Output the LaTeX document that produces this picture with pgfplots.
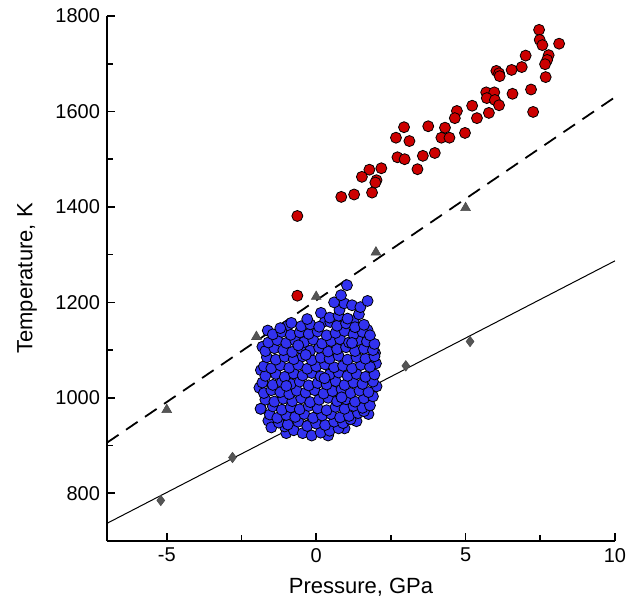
\documentclass[border=0pt]{standalone}
\usepackage{fontspec}
\setmainfont{Liberation Sans}
\usepackage{pgfplots}
\pgfplotsset{compat=1.18}
\definecolor{redc}{RGB}{204,0,0}
\definecolor{bluec}{RGB}{50,50,240}
\definecolor{grayc}{RGB}{85,85,85}
\begin{document}
\begin{tikzpicture}
\useasboundingbox (-53.5pt,-30pt) rectangle (265.5pt,270.5pt);
\begin{axis}[
  at={(0,0)}, anchor=south west,
  width=254pt, height=262.5pt, scale only axis,
  xmin=-7, xmax=10, ymin=700, ymax=1800,
  axis x line*=bottom, axis y line*=left,
  axis line style={line width=1pt},
  xtick={-5,0,5,10}, xticklabels={-5,0,5,10},
  ytick={800,1000,1200,1400,1600,1800},
  yticklabels={800,1000,1200,1400,1600,1800},
  minor xtick={-2.5,2.5,7.5}, minor ytick={900,1100,1300,1500,1700},
  major tick length=4pt, minor tick length=3pt,
  every tick/.style={black, line width=0.8pt},
  tick align=inside,
  xlabel={Pressure, GPa}, ylabel={Temperature, K},
  label style={font=\fontsize{11}{13}\selectfont},
  xlabel style={at={(axis description cs:0.5,-0.088)}, anchor=center},
  ylabel style={at={(axis description cs:-0.1575,0.5)}, anchor=center},
  clip=false,
]
% fitted lines
\addplot[black, line width=0.5pt] coordinates {(-7,737) (10,1287)};
\addplot[black, line width=0.9pt, dash pattern=on 7pt off 4.5pt] coordinates {(-7,906) (10,1630)};
% triangles
\addplot[only marks, mark=triangle*, mark size=2.8pt, mark options={fill=grayc, draw=black!70, line width=0.3pt}] coordinates {
(-5,975) (-2,1128) (0,1212) (2,1305) (5,1398)};
% diamonds
\addplot[only marks, mark=diamond*, mark size=2.6pt, mark options={fill=grayc, draw=black!70, line width=0.3pt}] coordinates {
(-5.2,785) (-2.8,875) (3.0,1067) (5.15,1118)};
% blue cluster
\addplot[only marks, mark=*, mark size=2.75pt, mark options={fill=bluec, draw=black, line width=0.4pt}] coordinates {
(-1.6,952) (-1.0,926) (0.4,921) (0.95,936) (1.35,951) (1.75,966) (-1.9,1021) (-1.85,1058) (-1.8,1107) (-1.62,1141)
(2.0,1072) (2.02,1024) (1.97,1094) (1.72,1142) (-0.95,1151) (0.3,1161) (1.25,1161)
(-0.75,932) (-0.45,926) (-0.15,921) (0.15,927) (0.45,931) (0.75,936) (-1.05,940)
(-1.5,938) (-1.25,948) (-0.95,944) (-0.6,950) (-0.3,941) (0.0,946) (0.3,943) (0.6,950) (0.9,947) (1.15,955)
(-1.55,965) (-1.3,958) (-1.0,964) (-0.7,960) (-0.4,966) (-0.1,958) (0.2,963) (0.5,966) (0.8,959) (1.1,962) (1.4,968) (1.6,972)
(-1.85,977) (-1.45,982) (-1.15,975) (-0.85,980) (-0.55,976) (-0.25,983) (0.05,978) (0.35,974) (0.65,981) (0.95,977) (1.25,983) (1.55,979) (1.8,984)
(-1.7,996) (-1.4,992) (-1.1,998) (-0.8,993) (-0.5,999) (-0.2,991) (0.1,996) (0.4,1000) (0.7,993) (1.0,997) (1.3,992) (1.6,999) (1.9,1003)
(-1.75,1010) (-1.5,1016) (-1.2,1012) (-0.9,1008) (-0.65,1015) (-0.35,1011) (-0.05,1016) (0.25,1009) (0.55,1014) (0.85,1018) (1.15,1010) (1.45,1015) (1.75,1012)
(-1.8,1032) (-1.45,1027) (-1.15,1033) (-0.85,1029) (-0.55,1034) (-0.25,1026) (0.05,1031) (0.35,1028) (0.65,1035) (0.95,1027) (1.25,1032) (1.55,1029) (1.9,1034)
(-1.7,1046) (-1.35,1050) (-1.05,1044) (-0.75,1051) (-0.45,1047) (-0.15,1052) (0.15,1045) (0.45,1049) (0.75,1053) (1.05,1046) (1.35,1050) (1.65,1044) (1.95,1049)
(-1.75,1066) (-1.5,1062) (-1.2,1068) (-0.9,1063) (-0.6,1069) (-0.3,1061) (0.0,1066) (0.3,1070) (0.6,1064) (0.9,1067) (1.2,1062) (1.5,1069) (1.8,1065)
(-1.65,1085) (-1.35,1080) (-1.05,1086) (-0.75,1081) (-0.45,1087) (-0.15,1079) (0.15,1084) (0.45,1082) (0.75,1088) (1.05,1080) (1.35,1085) (1.65,1082) (1.95,1087)
(-1.7,1098) (-1.4,1104) (-1.1,1100) (-0.8,1096) (-0.5,1103) (-0.2,1099) (0.1,1105) (0.4,1097) (0.7,1102) (1.0,1106) (1.3,1098) (1.6,1103) (1.9,1100)
(-1.6,1116) (-1.3,1121) (-1.0,1115) (-0.7,1120) (-0.4,1117) (-0.1,1122) (0.2,1114) (0.5,1119) (0.8,1123) (1.1,1116) (1.4,1121) (1.7,1118) (1.95,1113)
(-1.45,1133) (-1.15,1138) (-0.85,1132) (-0.55,1137) (-0.25,1134) (0.05,1139) (0.35,1131) (0.65,1136) (0.95,1140) (1.25,1133) (1.55,1138) (1.8,1131)
(-1.2,1146) (-0.83,1157) (-0.5,1150) (-0.2,1154) (0.1,1149) (0.47,1159) (0.7,1151) (1.0,1156) (1.3,1148) (1.6,1153)
(-0.3,1165) (0.16,1178) (0.45,1168) (0.75,1172) (1.05,1166) (1.43,1175)
(-0.35,1090) (0.28,1041) (0.85,1001) (-1.0,1025) (1.2,1115) (-0.6,1110)
(0.78,1184) (0.94,1198) (1.2,1194) (1.48,1190) (0.6,1200)
(0.83,1215) (1.72,1203) (1.03,1236)
(-1.86,977)
};
% red circles
\addplot[only marks, mark=*, mark size=2.75pt, mark options={fill=redc, draw=black, line width=0.4pt}] coordinates {
(7.46,1771) (7.48,1750) (7.57,1739) (8.13,1742) (7.01,1717) (7.78,1718) (7.73,1708) (7.66,1699)
(6.88,1693) (6.54,1687) (6.03,1685) (6.12,1680) (6.14,1674) (7.68,1672) (7.19,1646) (6.57,1637)
(5.69,1640) (5.96,1640) (5.71,1628) (5.98,1624) (6.12,1613) (7.26,1599) (5.78,1597) (5.22,1612)
(4.71,1601) (4.64,1586) (5.38,1586) (2.94,1567) (3.75,1569) (4.31,1566) (4.98,1555) (2.67,1545)
(3.12,1538) (4.19,1545) (4.46,1545) (2.72,1504) (2.96,1500) (3.57,1507) (3.97,1513) (3.39,1479)
(1.78,1478) (2.18,1481) (1.53,1463) (2.02,1456) (1.98,1451) (1.87,1430) (0.84,1421) (1.27,1426)
(-0.63,1381) (-0.63,1214)
};
\end{axis}
\end{tikzpicture}
\end{document}
